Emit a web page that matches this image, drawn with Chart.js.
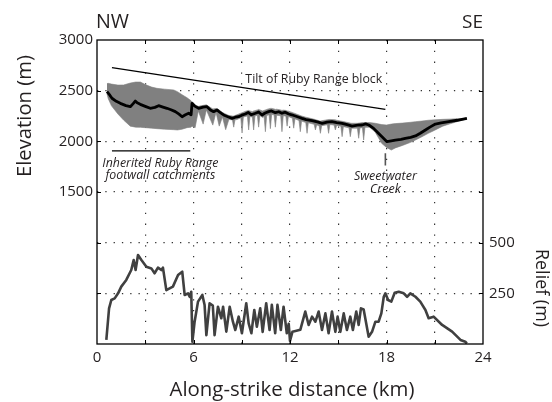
<!DOCTYPE html>
<html><head><meta charset="utf-8">
<script src="https://cdn.jsdelivr.net/npm/chart.js@4"></script>
<style>html,body{margin:0;padding:0;background:#fff;}canvas{display:block;}</style>
</head><body>
<canvas id="c" width="552" height="402"></canvas>
<script>
// ---- tick labels ----
const distanceTicks = [0, 6, 12, 18, 24];
const elevationTicks = [1500, 2000, 2500, 3000];
const reliefTicks = [250, 500];

// ---- mean elevation profile (km, m) ----
const meanKm = [0.62,0.8,0.93,1.2,1.45,1.8,2.07,2.25,2.38,2.5,
  2.69,3.0,3.31,3.6,3.83,4.1,4.35,4.6,4.87,5.1,
  5.29,5.5,5.7,5.85,5.91,6.1,6.32,6.6,6.84,7.05,
  7.25,7.46,7.65,7.87,8.1,8.4,8.6,8.8,9.0,9.22,
  9.4,9.6,9.85,10.05,10.26,10.45,10.67,10.85,11.09,11.3,
  11.5,11.7,11.92,12.1,12.33,12.55,12.75,13.0,13.37,13.7,
  14.0,14.3,14.6,14.9,15.24,15.55,15.86,16.2,16.48,16.7,
  16.9,17.2,17.5,17.72,18.03,18.3,18.55,18.9,19.17,19.5,
  19.8,20.1,20.42,20.7,21.04,21.4,21.87,22.4,23.0];
const meanElev = [2490,2455,2425,2395,2375,2352,2342,2372,2398,2380,
  2365,2345,2326,2335,2352,2338,2326,2312,2293,2268,
  2243,2262,2277,2262,2375,2345,2326,2338,2342,2310,
  2293,2310,2285,2260,2245,2227,2238,2243,2258,2270,
  2285,2262,2277,2290,2260,2280,2293,2300,2283,2292,
  2277,2288,2270,2262,2250,2238,2227,2215,2204,2192,
  2178,2190,2194,2185,2178,2165,2151,2160,2161,2172,
  2161,2128,2080,2046,1997,2005,2013,2020,2030,2040,
  2053,2080,2112,2140,2171,2182,2194,2208,2227];

// ---- min / max elevation envelope (km, m) ----
const bandKm = [0.62,0.7,0.9,1.3,1.65,2.07,2.4,2.7,3.0,3.4,3.73,4.2,4.77,5.0,5.29,5.6,5.85,
  5.91,6.1,6.3,6.6,6.8,7.2,7.4,7.6,7.8,8.0,
  8.2,8.42,8.5,8.58,8.7,8.94,9.02,9.1,9.2,9.35,
  9.43,9.51,9.66,9.74,9.82,9.97,10.05,10.13,10.3,10.39,
  10.47,10.55,10.7,10.78,10.86,11.01,11.09,11.17,11.42,11.5,
  11.58,11.74,11.82,11.9,12.15,12.23,12.31,12.56,12.64,12.72,
  12.98,13.06,13.14,13.5,13.58,13.66,13.81,13.89,13.97,14.32,
  14.4,14.48,14.74,14.82,14.9,15.16,15.24,15.32,15.67,15.75,
  15.83,16.19,16.27,16.35,16.5,16.58,16.66,16.95,
  17.3,17.7,18.0,18.3,18.55,19.0,19.5,19.8,20.2,20.6,21.0,21.5,22.0,22.5,23.0];
const bandHigh = [2570,2572,2565,2555,2556,2575,2585,2585,2560,2535,2523,2515,2507,2490,2460,2430,2400,
  2390,2360,2345,2355,2360,2320,2325,2310,2285,2270,
  2255,2250,2250,2255,2262,2278,2282,2288,2295,2303,
  2305,2300,2293,2300,2303,2310,2315,2310,2300,2305,
  2310,2315,2322,2325,2325,2320,2315,2317,2310,2305,
  2308,2305,2300,2298,2285,2280,2275,2260,2255,2250,
  2238,2235,2232,2218,2215,2210,2203,2200,2203,2213,
  2215,2216,2214,2212,2208,2200,2198,2195,2183,2180,
  2178,2178,2180,2182,2185,2185,2186,2185,
  2178,2165,2161,2170,2175,2180,2188,2194,2200,2208,2212,2217,2220,2224,2228];
const bandLow = [2470,2420,2350,2270,2210,2150,2140,2138,2135,2130,2125,2120,2115,2112,2120,2135,2140,
  2150,2135,2300,2170,2310,2160,2285,2150,2240,2115,
  2215,2212,2140,2212,2215,2232,2082,2238,2245,2250,
  2112,2245,2240,2112,2250,2258,2140,2255,2235,2245,
  2095,2255,2262,2125,2265,2262,2140,2258,2252,2095,
  2252,2250,2150,2245,2228,2130,2222,2205,2095,2200,
  2185,2079,2183,2168,2112,2162,2155,2079,2155,2163,
  2079,2166,2160,2112,2157,2150,2046,2145,2133,2046,
  2130,2130,2030,2132,2135,2013,2138,2140,
  2090,1980,1940,1914,1935,1960,1990,2013,2045,2079,2110,2150,2175,2200,2222];

// ---- local relief (km, m) ----
const reliefKm = [0.58,0.75,0.89,1.1,1.31,1.51,1.82,2.13,2.28,2.4,
  2.55,2.76,3.07,3.38,3.58,3.79,4.0,4.1,4.31,4.72,
  5.04,5.3,5.45,5.66,5.76,5.86,5.93,6.07,6.28,6.55,
  6.69,6.8,7.0,7.2,7.31,7.52,7.73,7.84,8.04,8.25,
  8.45,8.6,8.81,9.01,9.28,9.43,9.6,9.78,9.94,10.15,
  10.3,10.52,10.73,10.87,11.08,11.22,11.43,11.6,11.8,11.92,
  12.0,12.15,12.4,12.64,12.95,13.16,13.37,13.58,13.78,13.99,
  14.2,14.4,14.61,14.82,14.96,15.13,15.34,15.54,15.75,15.91,
  16.12,16.27,16.41,16.58,16.89,17.1,17.31,17.51,17.68,17.83,
  17.93,18.1,18.3,18.51,18.76,19.07,19.28,19.48,19.8,20.1,
  20.42,20.62,20.93,21.46,22.08,22.6,22.9,23.0];
const reliefVal = [20,176,217,225,250,283,316,365,414,365,
  439,414,381,373,349,377,365,377,266,283,
  340,357,242,250,233,258,11,110,209,242,
  192,44,201,190,44,184,127,184,61,184,
  110,69,135,53,201,102,53,168,85,176,
  60,201,69,193,53,193,69,184,53,100,
  15,60,65,70,160,94,135,110,160,69,
  151,53,160,60,135,60,151,69,135,69,
  160,94,176,170,36,60,110,110,151,233,
  250,217,209,253,258,250,233,250,233,209,
  168,127,135,94,61,20,11,3];

// ---- annotation guide lines (km, m) ----
const tiltKm = [0.93, 17.93], tiltElev = [2727, 2316];
const footwallKm = [0.93, 5.8], footwallElev = [1905, 1905];
const creekKm = [17.93, 17.93], creekElev = [1882, 1762];

const FAMILY = "'Open Sans', 'Noto Sans', sans-serif";
const INK = '#231f20';
const pts = (xs, ys) => xs.map((v, i) => ({x: v, y: ys[i]}));

function fitText(ctx, text, x, y, align, width, style) {
  ctx.font = style + ' 20px ' + FAMILY;
  const s = 20 * width / ctx.measureText(text).width;
  ctx.font = style + ' ' + s.toFixed(2) + 'px ' + FAMILY;
  ctx.textAlign = align;
  ctx.textBaseline = 'alphabetic';
  ctx.fillText(text, x, y);
  return s;
}

const decor = {
  id: 'decor',
  afterDraw(chart) {
    const {ctx, chartArea: a, scales} = chart;
    const X = scales.x, Y = scales.y;
    ctx.save();
    // frame
    ctx.strokeStyle = '#000'; ctx.lineWidth = 1.3;
    ctx.strokeRect(a.left, a.top, a.right - a.left, a.bottom - a.top);
    // inward ticks
    ctx.lineWidth = 1;
    ctx.beginPath();
    for (let k = 3; k < 24; k += 3) {
      const px = Math.round(X.getPixelForValue(k)) + 0.5;
      ctx.moveTo(px, a.bottom); ctx.lineTo(px, a.bottom - 4);
      ctx.moveTo(px, a.top); ctx.lineTo(px, a.top + 4);
    }
    for (let e = 500; e < 3000; e += 500) {
      const py = Math.round(Y.getPixelForValue(e)) + 0.5;
      ctx.moveTo(a.left, py); ctx.lineTo(a.left + 4, py);
      ctx.moveTo(a.right, py); ctx.lineTo(a.right - 4, py);
    }
    ctx.stroke();

    ctx.fillStyle = INK;
    // compass labels
    fitText(ctx, 'NW', a.left - 1, 28, 'left', 33, 'normal');
    fitText(ctx, 'SE', a.right, 28, 'right', 21, 'normal');
    // axis titles
    fitText(ctx, 'Along-strike distance (km)', 292, 396, 'center', 245, 'normal');
    ctx.save(); ctx.translate(31, 116); ctx.rotate(-Math.PI / 2);
    fitText(ctx, 'Elevation (m)', 0, 0, 'center', 122, 'normal'); ctx.restore();
    ctx.save(); ctx.translate(536, 288); ctx.rotate(Math.PI / 2);
    fitText(ctx, 'Relief (m)', 0, 0, 'center', 78, 'normal'); ctx.restore();
    // annotations
    fitText(ctx, 'Tilt of Ruby Range block', X.getPixelForValue(13.48), Y.getPixelForValue(2576), 'center', 137, 'normal');
    const s1 = fitText(ctx, 'Inherited Ruby Range', X.getPixelForValue(3.94), Y.getPixelForValue(1742), 'center', 116, 'italic');
    ctx.font = 'italic ' + s1.toFixed(2) + 'px ' + FAMILY;
    ctx.fillText('footwall catchments', X.getPixelForValue(3.94), Y.getPixelForValue(1625));
    const s2 = fitText(ctx, 'Sweetwater', X.getPixelForValue(17.93), Y.getPixelForValue(1618), 'center', 63, 'italic');
    ctx.font = 'italic ' + s2.toFixed(2) + 'px ' + FAMILY;
    ctx.fillText('Creek', X.getPixelForValue(17.93), Y.getPixelForValue(1490));
    ctx.restore();
  }
};

const gridDotColor = '#333';
new Chart(document.getElementById('c'), {
  type: 'line',
  data: {
    datasets: [
      {data: pts(bandKm, bandHigh), yAxisID: 'y', borderWidth: 0.6, borderColor: '#808080',
       backgroundColor: '#808080', fill: '+1', pointRadius: 0, order: 5},
      {data: pts(bandKm, bandLow), yAxisID: 'y', borderWidth: 0.6, borderColor: '#808080',
       fill: false, pointRadius: 0, order: 5},
      {data: pts(meanKm, meanElev), yAxisID: 'y', borderWidth: 2.8, borderColor: '#000',
       fill: false, pointRadius: 0, order: 2, borderJoinStyle: 'round'},
      {data: pts(reliefKm, reliefVal), yAxisID: 'y2', borderWidth: 2.6, borderColor: '#404040',
       fill: false, pointRadius: 0, order: 3, borderJoinStyle: 'round'},
      {data: pts(tiltKm, tiltElev), yAxisID: 'y', borderWidth: 1.3, borderColor: '#000',
       fill: false, pointRadius: 0, order: 1},
      {data: pts(footwallKm, footwallElev), yAxisID: 'y', borderWidth: 1.3, borderColor: '#000',
       fill: false, pointRadius: 0, order: 1},
      {data: pts(creekKm, creekElev), yAxisID: 'y', borderWidth: 1.6, borderColor: '#555',
       fill: false, pointRadius: 0, order: 1}
    ]
  },
  options: {
    responsive: false, animation: false, devicePixelRatio: 1,
    layout: {padding: {top: 40, left: 0, right: 0, bottom: 0}},
    plugins: {legend: {display: false}, tooltip: {enabled: false}, title: {display: false}},
    elements: {line: {tension: 0}},
    scales: {
      x: {
        type: 'linear', min: 0, max: 24, position: 'bottom',
        afterFit: s => { s.height = 58; },
        ticks: {stepSize: 3, autoSkip: false, maxRotation: 0, padding: 5, color: INK,
                font: {family: FAMILY, size: 15},
                callback: v => distanceTicks.includes(v) ? String(v) : ''},
        grid: {drawTicks: false, lineWidth: 1.2,
               color: c => (c.tick && (c.tick.value === 0 || c.tick.value === 24)) ? 'rgba(0,0,0,0)' : gridDotColor},
        border: {display: false, dash: [1.3, 9.5]}
      },
      y: {
        type: 'linear', min: 0, max: 3000, position: 'left',
        afterFit: s => { s.width = 97; },
        ticks: {stepSize: 500, padding: 4, color: INK, font: {family: FAMILY, size: 15},
                callback: v => elevationTicks.includes(v) ? String(v) : ''},
        grid: {drawTicks: false, lineWidth: 1.2,
               color: c => (c.tick && (c.tick.value === 0 || c.tick.value === 3000)) ? 'rgba(0,0,0,0)' : gridDotColor},
        border: {display: false, dash: [1.3, 7]}
      },
      y2: {
        type: 'linear', min: 0, max: 1500, position: 'right',
        afterFit: s => { s.width = 69; },
        ticks: {stepSize: 250, padding: 6, color: INK, font: {family: FAMILY, size: 15},
                callback: v => reliefTicks.includes(v) ? String(v) : ''},
        grid: {display: false, drawTicks: false},
        border: {display: false}
      }
    }
  },
  plugins: [decor]
});
</script>
</body></html>
